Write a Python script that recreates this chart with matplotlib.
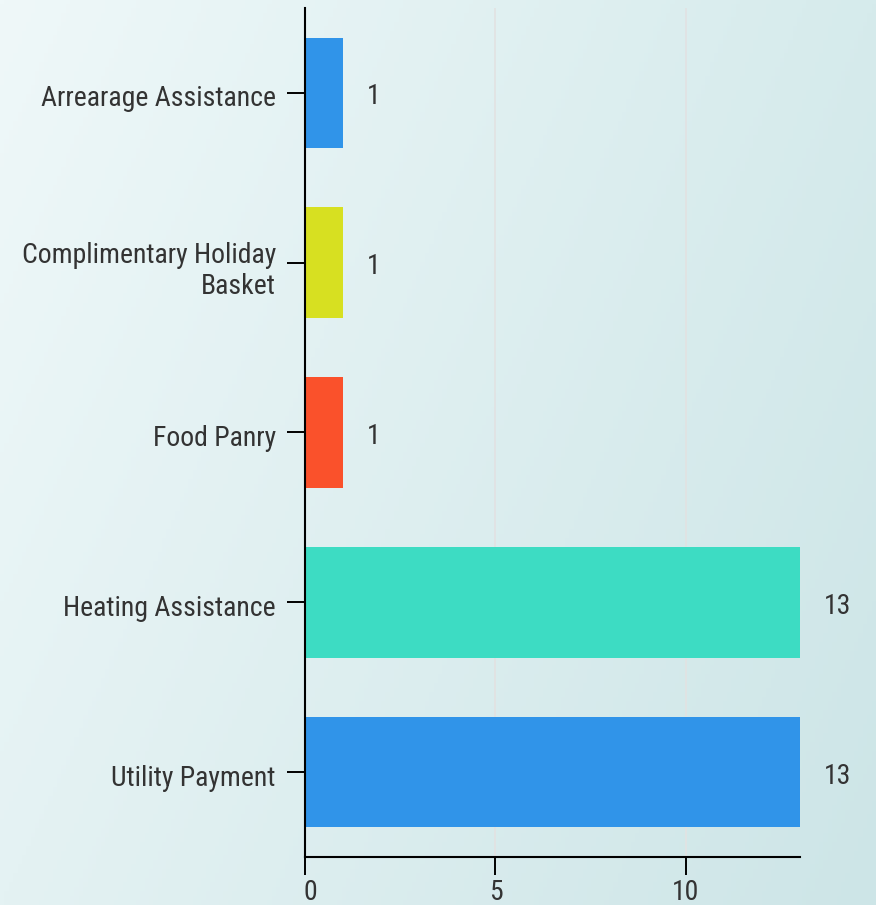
import numpy as np
import matplotlib
matplotlib.use("Agg")
import matplotlib.pyplot as plt
from matplotlib.transforms import ScaledTranslation

# categories top to bottom, and their counts
categories = ["Arrearage Assistance", "Complimentary Holiday\nBasket",
              "Food Panry", "Heating Assistance", "Utility Payment"]
counts = [1, 1, 1, 13, 13]
colors = ["#3094e9", "#d7e021", "#fa512b", "#3ddcc3", "#3094e9"]
xticks = [0, 5, 10]

plt.rcParams["font.family"] = ["Roboto Condensed", "Liberation Sans Narrow", "Roboto", "DejaVu Sans"]
text_color = "#333333"

fig = plt.figure(figsize=(8.76, 9.05), dpi=100)

# background gradient (light on the left, teal towards bottom right)
bg = fig.add_axes([0, 0, 1, 1], zorder=-10)
tl, tr = np.array([0xef, 0xf8, 0xf9]), np.array([0xd6, 0xeb, 0xec])
bl, br = np.array([0xe4, 0xf2, 0xf3]), np.array([0xcd, 0xe5, 0xe7])
u = np.linspace(0, 1, 200)[None, :, None]
v = np.linspace(0, 1, 200)[:, None, None]
img = (tl * (1 - u) * (1 - v) + tr * u * (1 - v) + bl * (1 - u) * v + br * u * v) / 255
bg.imshow(img, aspect="auto", extent=[0, 1, 0, 1], origin="upper")
bg.axis("off")

ax = fig.add_axes([0.3482, 0.0530, 0.5650, 0.9382])
ax.patch.set_alpha(0)
y = np.arange(len(categories))
ax.barh(y, counts, height=0.65, color=colors, zorder=3)
ax.set_ylim(len(categories) - 0.5, -0.5)
ax.set_xlim(0, 13)

for yi, c in zip(y, counts):
    ax.annotate(str(c), (c, yi), xytext=(24, -4), textcoords="offset pixels",
                ha="left", va="center", fontsize=20, color=text_color)

ax.set_yticks(y)
ax.set_yticklabels(categories, fontsize=20, color=text_color)
ax.set_xticks(xticks)
ax.set_xticklabels([str(t) for t in xticks], fontsize=20, color=text_color)
ax.tick_params(axis="y", length=13, width=1.4, pad=8)
ax.tick_params(axis="x", length=13, width=1.4, pad=2.5)
ax.grid(axis="x", color="#e2e2e2", linewidth=1.2, zorder=0)
ax.set_axisbelow(True)

# nudge the labels a little, as in the original
shift_down = ScaledTranslation(0, -3 / 100, fig.dpi_scale_trans)
for lab in ax.get_yticklabels():
    lab.set_transform(lab.get_transform() + shift_down)
shift_right = ScaledTranslation(5 / 100, 0, fig.dpi_scale_trans)
ax.get_xticklabels()[0].set_transform(ax.get_xticklabels()[0].get_transform() + shift_right)

for side in ["top", "right"]:
    ax.spines[side].set_visible(False)
for side in ["left", "bottom"]:
    ax.spines[side].set_linewidth(1.5)
    ax.spines[side].set_color("black")
    ax.spines[side].set_zorder(4)

fig.savefig("out.png", dpi=100)
